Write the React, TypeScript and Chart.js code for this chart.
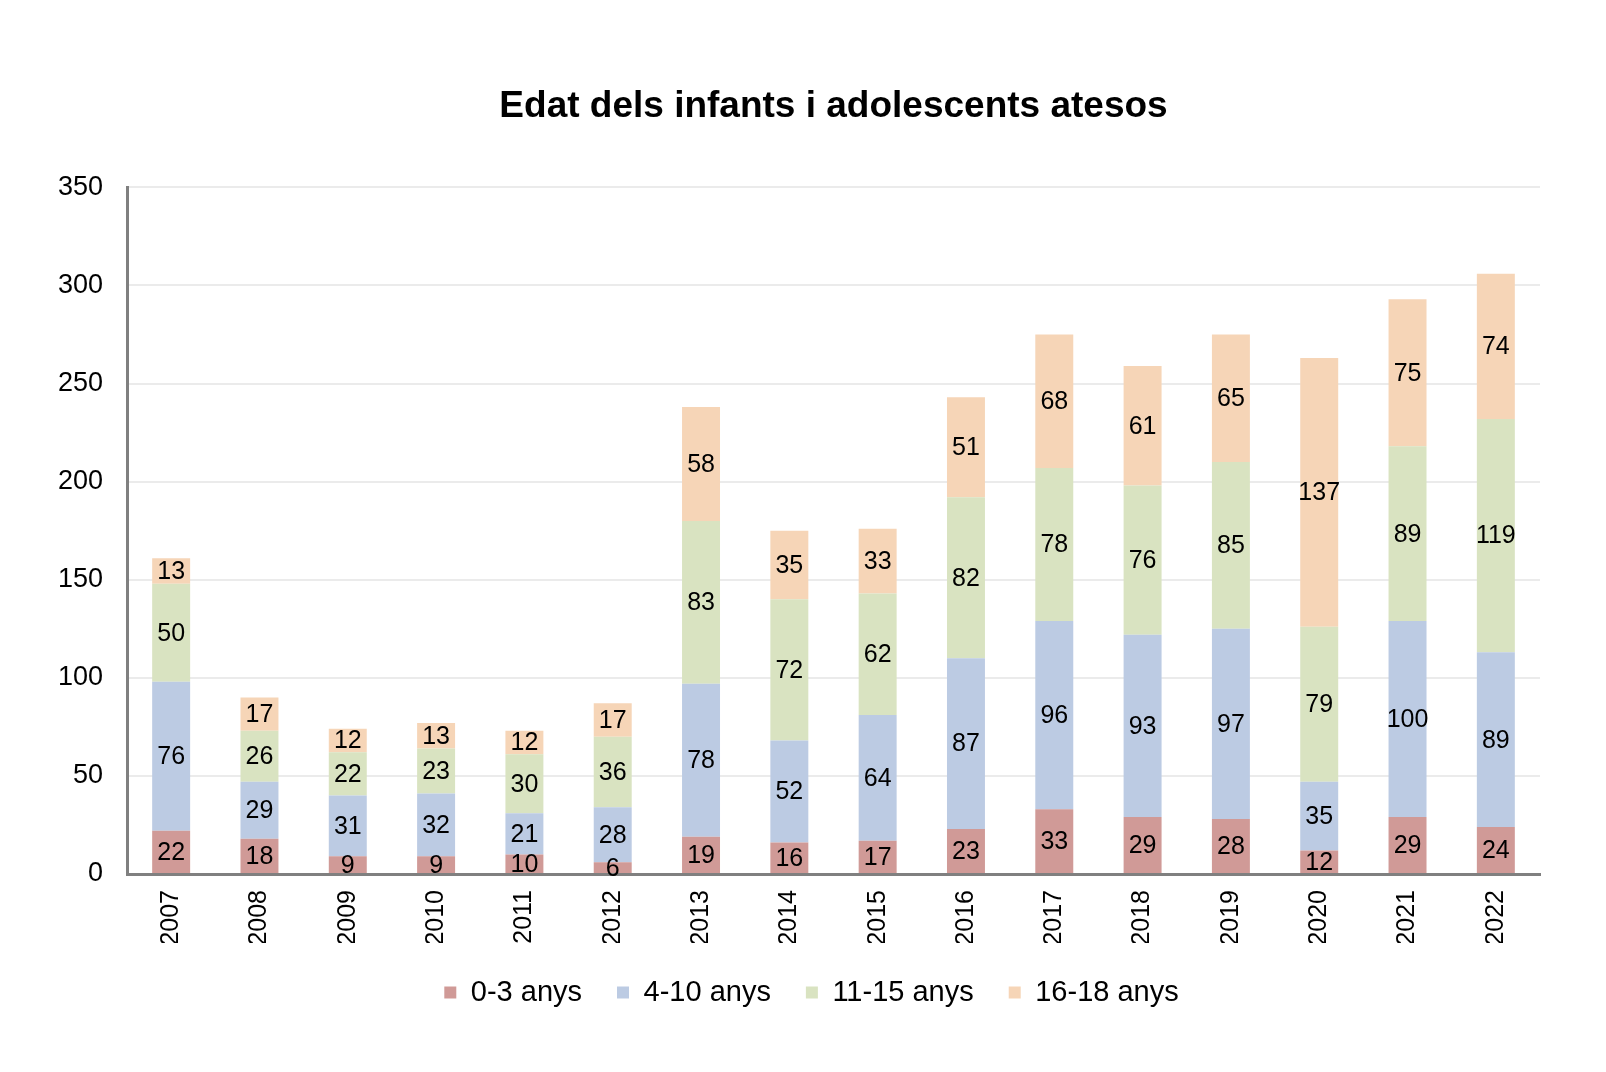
import React, { useEffect, useRef } from "react";
import { Chart, registerables } from "chart.js";

Chart.register(...registerables);

const years = ["2007", "2008", "2009", "2010", "2011", "2012", "2013", "2014", "2015", "2016", "2017", "2018", "2019", "2020", "2021", "2022"];
const age0to3 = [22, 18, 9, 9, 10, 6, 19, 16, 17, 23, 33, 29, 28, 12, 29, 24];
const age4to10 = [76, 29, 31, 32, 21, 28, 78, 52, 64, 87, 96, 93, 97, 35, 100, 89];
const age11to15 = [50, 26, 22, 23, 30, 36, 83, 72, 62, 82, 78, 76, 85, 79, 89, 119];
const age16to18 = [13, 17, 12, 13, 12, 17, 58, 35, 33, 51, 68, 61, 65, 137, 75, 74];
const seriesNames = ["0-3 anys", "4-10 anys", "11-15 anys", "16-18 anys"];
const yTicks = [0, 50, 100, 150, 200, 250, 300, 350];

const FONT = "'Liberation Sans', Arial, Helvetica, sans-serif";
const colors = ["#D09A97", "#BCCBE3", "#D9E3C1", "#F6D5B7"];

const valueLabels = {
  id: "valueLabels",
  afterDatasetsDraw(chart: any) {
    const ctx = chart.ctx;
    ctx.save();
    ctx.font = `25px ${FONT}`;
    ctx.fillStyle = "#000";
    ctx.textAlign = "center";
    ctx.textBaseline = "middle";
    chart.data.datasets.forEach((ds: any, di: number) => {
      const meta = chart.getDatasetMeta(di);
      meta.data.forEach((el: any, i: number) => {
        const v = ds.data[i];
        const props = el.getProps(["x", "y", "base"], true);
        ctx.fillText(String(v), props.x, (props.y + props.base) / 2 + 1);
      });
    });
    ctx.restore();
  },
};

const legendShift = {
  id: "legendShift",
  afterLayout(chart: any) {
    const lg = chart.legend;
    if (lg) {
      lg.left -= 22;
      lg.right -= 22;
    }
  },
};

export default function App() {
  const ref = useRef<HTMLCanvasElement | null>(null);
  useEffect(() => {
    document.body.style.margin = "0";
    const series = [age0to3, age4to10, age11to15, age16to18];
    const chart = new Chart(ref.current as HTMLCanvasElement, {
      type: "bar",
      data: {
        labels: years,
        datasets: series.map((d, i) => ({
          label: seriesNames[i],
          data: d,
          backgroundColor: colors[i],
          borderWidth: 0,
          barPercentage: 0.43,
          categoryPercentage: 1,
        })),
      },
      options: {
        animation: false,
        responsive: false,
        maintainAspectRatio: false,
        devicePixelRatio: 1,
        layout: { padding: { left: 40, right: 66, top: 0, bottom: 55 } },
        plugins: {
          title: {
            display: true,
            text: "Edat dels infants i adolescents atesos",
            fullSize: false,
            color: "#000",
            font: { family: FONT, size: 37, weight: "bold" },
            padding: { top: 85, bottom: 58 },
          },
          legend: {
            position: "bottom",
            fullSize: false,
            labels: {
              color: "#000",
              font: { family: FONT, size: 29 },
              boxWidth: 12,
              boxHeight: 12,
              padding: 35,
            },
          },
          tooltip: { enabled: false },
        },
        scales: {
          x: {
            stacked: true,
            grid: { display: false },
            border: { display: true, color: "#808080", width: 3 },
            ticks: {
              color: "#000",
              font: { family: FONT, size: 25 },
              minRotation: 90,
              maxRotation: 90,
              padding: 8,
            },
            afterFit(scale: any) {
              scale.height = 69;
            },
          },
          y: {
            stacked: true,
            min: 0,
            max: 350,
            afterBuildTicks(scale: any) {
              scale.ticks = yTicks.map((v) => ({ value: v }));
            },
            grid: { color: "#EBEBEB", lineWidth: 2, drawTicks: false },
            border: { display: true, color: "#808080", width: 3 },
            ticks: {
              color: "#000",
              font: { family: FONT, size: 27 },
              padding: 24,
            },
            afterFit(scale: any) {
              scale.width = 87;
            },
          },
        },
      },
      plugins: [valueLabels, legendShift],
    });
    return () => chart.destroy();
  }, []);
  return (
    <div style={{ position: "absolute", left: 0, top: 0, width: 1606, height: 1072, background: "#fff" }}>
      <canvas ref={ref} width={1606} height={1072} style={{ width: 1606, height: 1072 }} />
    </div>
  );
}
